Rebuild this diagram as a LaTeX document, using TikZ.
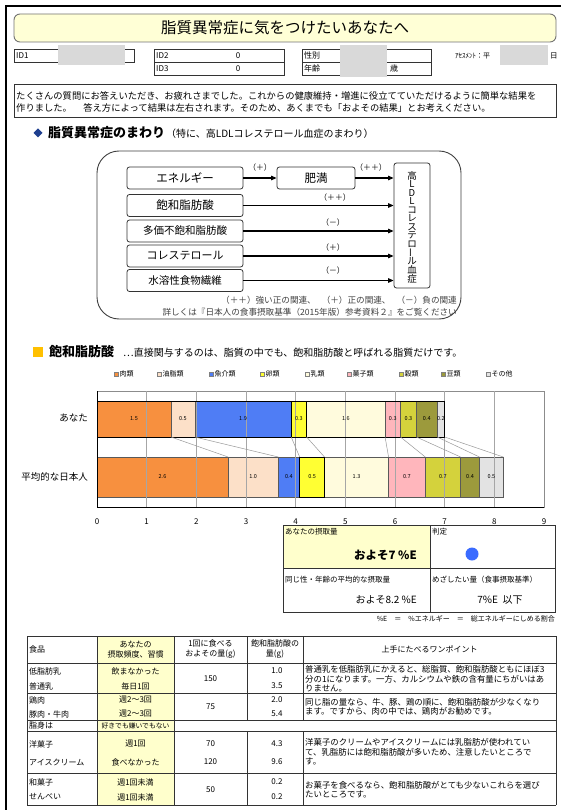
\documentclass[tikz,border=0pt]{standalone}
\usepackage{fontspec}
\setmainfont{Noto Sans CJK JP}
\usetikzlibrary{arrows.meta,calc}
\newcommand\fsz[2]{\fontsize{#1}{#2}\selectfont}
\definecolor{titlefill}{HTML}{FFFFD6}
\definecolor{ylw}{HTML}{FFFFCC}
\definecolor{navy}{HTML}{1F3F8F}
\definecolor{hdsq}{HTML}{FFC000}
\definecolor{cmeat}{HTML}{F7903F}
\definecolor{coil}{HTML}{FCE0C8}
\definecolor{cfish}{HTML}{4F7DF5}
\definecolor{cegg}{HTML}{FFFF33}
\definecolor{cmilk}{HTML}{FFFBDD}
\definecolor{csweet}{HTML}{FFB6BC}
\definecolor{cgrain}{HTML}{D4D23C}
\definecolor{cbean}{HTML}{9C9A3C}
\definecolor{cother}{HTML}{E3E3E3}
\definecolor{judge}{HTML}{3A6BFF}
\tikzset{
  tw/.style={inner sep=0, anchor=west},
  te/.style={inner sep=0, anchor=east},
  tc/.style={inner sep=0},
  thin box/.style={draw=black!80, line width=0.6},
  redact/.style={fill=black!15, draw=none},
  dbox/.style={draw=black!80, line width=0.8, rounded corners=2.5, minimum height=22, inner sep=0, font=\fsz{11.5}{12}},
  arr/.style={draw=black, line width=1.1, -{Triangle[length=5.5,width=4.5]}},
  rel/.style={inner sep=0, font=\fsz{7.8}{9}},
  note/.style={inner sep=0, anchor=east, font=\fsz{8.6}{9}, text=black!75},
  seg/.style={draw=black!65, line width=0.5},
  vl/.style={inner sep=0, font=\fsz{5.5}{6}},
  conn/.style={draw=black!40, line width=0.5},
  gridl/.style={draw=black!35, line width=0.5},
  lg/.style={inner sep=0, anchor=west, font=\fsz{7}{8}},
  tab/.style={draw=black!80, line width=0.6},
  tt/.style={inner sep=0, font=\fsz{8}{10}},
  ttx/.style={inner sep=0, anchor=west, align=left, font=\fsz{8.4}{9.5}},
}
\begin{document}
\begin{tikzpicture}[x=1pt,y=-1pt]
\useasboundingbox (0,0) rectangle (561,810);
\fill[white] (0,0) rectangle (561,810);
% page frame
\draw[line width=2.4] (6,810) -- (6,6) -- (561,6);

% title
\node[draw=black!55, line width=0.9, fill=titlefill, rounded corners=6, minimum width=542, minimum height=28, inner sep=0, font=\fsz{15.5}{16}] (title) at (285,28) {脂質異常症に気をつけたいあなたへ};

% ID fields
\draw[thin box] (14,49) rectangle (134,62);
\node[tw, font=\fsz{8}{9}] (id1) at (16,55.5) {ID1};
\fill[redact] (58,45) rectangle (125,65);

\draw[thin box] (154,49) rectangle (284,75);
\draw[thin box] (154,62) -- (284,62);
\node[tw, font=\fsz{8}{9}] (id2) at (156,55.5) {ID2};
\node[tc, font=\fsz{8}{9}] (id2v) at (238,55.5) {0};
\node[tw, font=\fsz{8}{9}] (id3) at (156,68.5) {ID3};
\node[tc, font=\fsz{8}{9}] (id3v) at (238,68.5) {0};

\draw[thin box] (302,49) rectangle (431,75);
\draw[thin box] (302,62) -- (431,62);
\node[tw, font=\fsz{8}{9}] (sex) at (304,55.5) {性別};
\node[tw, font=\fsz{8}{9}] (age) at (304,68.5) {年齢};
\fill[redact] (340,45) rectangle (387,77);
\node[tw, font=\fsz{8}{9}] (sai) at (390,68.5) {歳};

\node[tw, font=\fsz{7}{8}] (asm) at (455,56) {ｱｾｽﾒﾝﾄ：平};
\fill[redact] (500,45) rectangle (548,65);
\node[tw, font=\fsz{7.5}{8}] (nichi) at (550,56) {日};

% message
\draw[thin box] (14,84) rectangle (556,117);
\node[tw, font=\fsz{9.3}{10}] (msg1) at (16,95.5) {たくさんの質問にお答えいただき、お疲れさまでした。これからの健康維持・増進に役立てていただけるように簡単な結果を};
\node[tw, font=\fsz{9.3}{10}] (msg2) at (16,108) {作りました。　 答え方によって結果は左右されます。そのため、あくまでも「およその結果」とお考えください。};

% heading 1
\fill[navy] (38,128.5) -- (42.5,133) -- (38,137.5) -- (33.5,133) -- cycle;
\node[tw, font=\fsz{13}{14}\bfseries] (h1) at (48,133) {脂質異常症のまわり};
\node[tw, font=\fsz{10}{11}] (h1s) at (166,134) {（特に、高LDLコレステロール血症のまわり）};

% diagram
\draw[draw=black!75, line width=0.9, rounded corners=22] (97,151) rectangle (461,319);
\node[dbox, minimum width=116] (ene) at (185,178) {エネルギー};
\node[dbox, minimum width=78] (obe) at (316,178) {肥満};
\node[dbox, minimum width=116] (sfa) at (185,205.5) {飽和脂肪酸};
\node[dbox, minimum width=116, font=\fsz{10.5}{11}] (pufa) at (185,231) {多価不飽和脂肪酸};
\node[dbox, minimum width=116, font=\fsz{11}{12}] (chol) at (185,256) {コレステロール};
\node[dbox, minimum width=116, font=\fsz{10.5}{11}] (fib) at (185,280.5) {水溶性食物繊維};
\node[dbox, minimum width=36, minimum height=125] (ldl) at (412,225.5) {};
\foreach \ch [count=\i] in {高,L,D,L,コ,レ,ス,テ,ロ,{\rotatebox[origin=c]{90}{ー}},ル,血,症}
  \node[tc, font=\fsz{9.5}{10}] (v\i) at (412,{175.5+(\i-1)*8.6}) {\ch};

\draw[arr] (ene.east) -- (obe.west);
\draw[arr] (obe.east) -- (obe.east -| ldl.west);
\draw[arr] (sfa.east) -- (sfa.east -| ldl.west);
\draw[arr] (pufa.east) -- (pufa.east -| ldl.west);
\draw[arr] (chol.east) -- (chol.east -| ldl.west);
\draw[arr] (fib.east) -- (fib.east -| ldl.west);
\node[rel] (r1) at (260,168) {（＋）};
\node[rel] (r2) at (371,168) {（＋＋）};
\node[rel] (r3) at (335,198) {（＋＋）};
\node[rel] (r4) at (333,223) {（－）};
\node[rel] (r5) at (333,247.5) {（＋）};
\node[rel] (r6) at (333,271) {（－）};
\node[note] (lg1) at (457,300) {（＋＋）強い正の関連、\hspace{6pt}（＋）正の関連、\hspace{6pt}（－）負の関連};
\node[note] (lg2) at (457,312.5) {詳しくは『日本人の食事摂取基準（2015年版）参考資料２』をご覧ください};

% heading 2
\fill[hdsq] (33,347) rectangle (43,357);
\node[tw, font=\fsz{13}{14}\bfseries] (h2) at (49,352) {飽和脂肪酸};
\node[tw, font=\fsz{10}{11}] (h2s) at (123,352.5) {…直接関与するのは、脂質の中でも、飽和脂肪酸と呼ばれる脂質だけです。};

% legend
\foreach \x/\c/\t [count=\i] in {114/cmeat/肉類,157/coil/油脂類,209/cfish/魚介類,260/cegg/卵類,305/cmilk/乳類,347/csweet/菓子類,399/cgrain/穀類,441/cbean/豆類,486/cother/その他}{
  \draw[fill=\c, draw=black!50, line width=0.4] (\x,372) rectangle (\x+4.5,376.5);
  \node[lg] (leg\i) at (\x+5.5,374.2) {\t};
}

% chart
\draw[draw=black!45, line width=0.6] (97,391) rectangle (544,507);
\foreach \a/\b/\c/\v [count=\i] in {0/1.49/cmeat/1.5,1.49/1.97/coil/0.5,1.97/3.91/cfish/1.9,3.91/4.22/cegg/0.3,4.22/5.80/cmilk/1.6,5.80/6.11/csweet/0.3,6.11/6.43/cgrain/0.3,6.43/6.85/cbean/0.4,6.85/7.0/cother/0.2}{
  \draw[seg, fill=\c] ({97+\a*49.67},401) rectangle ({97+\b*49.67},437);
}
\foreach \a/\b/\c/\v [count=\i] in {0/2.64/cmeat/2.6,2.64/3.65/coil/1.0,3.65/4.08/cfish/0.4,4.08/4.58/cegg/0.5,4.58/5.87/cmilk/1.3,5.87/6.61/csweet/0.7,6.61/7.32/cgrain/0.7,7.32/7.70/cbean/0.4,7.70/8.18/cother/0.5}{
  \draw[seg, fill=\c] ({97+\a*49.67},457) rectangle ({97+\b*49.67},497);
}
\foreach \k in {1,...,8}
  \draw[gridl] ({97+\k*49.67},391) -- ({97+\k*49.67},507);
\draw[black, line width=0.8] ({97+3.91*49.67},401) rectangle ({97+4.22*49.67},437);
\draw[black, line width=0.8] ({97+4.08*49.67},457) rectangle ({97+4.58*49.67},497);
\draw[black, line width=0.9] (97,401) rectangle ({97+7.0*49.67},437);
\foreach \a/\b/\v [count=\i] in {0/1.49/1.5,1.49/1.97/0.5,1.97/3.91/1.9,3.91/4.22/0.3,4.22/5.80/1.6,5.80/6.11/0.3,6.11/6.43/0.3,6.43/6.85/0.4,6.85/7.0/0.2}
  \node[vl] (ya\i) at ({97+(\a+\b)/2*49.67},419) {\v};
\foreach \a/\b/\v [count=\i] in {0/2.64/2.6,2.64/3.65/1.0,3.65/4.08/0.4,4.08/4.58/0.5,4.58/5.87/1.3,5.87/6.61/0.7,6.61/7.32/0.7,7.32/7.70/0.4,7.70/8.18/0.5}
  \node[vl] (yb\i) at ({97+(\a+\b)/2*49.67},477) {\v};
\foreach \p/\q in {1.49/2.64,1.97/3.65,3.91/4.08,4.22/4.58,5.80/5.87,6.11/6.61,6.43/7.32,6.85/7.70,7.0/8.18}
  \draw[conn] ({97+\p*49.67},437) -- ({97+\q*49.67},457);
\draw[black, line width=1] (97,391) -- (97,507) -- (544,507);
\foreach \k in {0,...,9}
  \node[tc, font=\fsz{8}{9}] (ax\k) at ({97+\k*49.67},522) {\k};
\node[te, font=\fsz{9.5}{10}] (you) at (88,418) {あなた};
\node[te, font=\fsz{9.5}{10}] (avg) at (88,477) {平均的な日本人};

% result box
\fill[ylw] (283,525) rectangle (430,568);
\draw[tab, line width=0.7] (283,525) rectangle (555,612);
\draw[tab, line width=0.7] (430,525) -- (430,612);
\draw[tab, line width=0.7] (283,568) -- (555,568);
\node[tw, font=\fsz{7.5}{8}] (rb1) at (285,532) {あなたの摂取量};
\node[te, font=\fsz{11.5}{12}\bfseries] (rb2) at (417,555) {およそ7 \%E};
\node[tw, font=\fsz{7.5}{8}] (rb3) at (432,532) {判定};
\node[circle, fill=judge, minimum size=13, inner sep=0] (dot) at (472,554) {};
\node[tw, font=\fsz{7.5}{8}] (rb4) at (285,580) {同じ性・年齢の平均的な摂取量};
\node[te, font=\fsz{10}{11}] (rb5) at (417,600) {およそ8.2 \%E};
\node[tw, font=\fsz{7.5}{8}] (rb6) at (432,580) {めざしたい量（食事摂取基準）};
\node[tc, font=\fsz{10}{11}] (rb7) at (500,600) {7\%E\ \ 以下};
\node[te, font=\fsz{7}{8}] (rb8) at (555,619) {\%E　＝　\%エネルギー　＝　総エネルギーにしめる割合};

% table
\fill[ylw] (97,636) rectangle (174,805);
\foreach \y in {636,663,693,720,731,773,805}
  \draw[tab] (27,\y) -- (556,\y);
\draw[tab] (27,636) -- (27,805);
\draw[tab] (556,636) -- (556,805);
\draw[tab] (97,636) -- (97,805);
\draw[tab] (174,636) -- (174,805);
\draw[tab] (247,636) -- (247,720);
\draw[tab] (303,636) -- (303,720);
\draw[tab] (247,731) -- (247,805);
\draw[tab] (303,731) -- (303,805);

\node[tt, anchor=west] (th1) at (29,649.5) {食品};
\node[tt, align=center] (th2) at (135.5,649.5) {あなたの\\摂取頻度、習慣};
\node[tt, align=center] (th3) at (210.5,649.5) {1回に食べる\\およその量(g)};
\node[tt, align=center] (th4) at (275,649.5) {飽和脂肪酸の\\量(g)};
\node[tt] (th5) at (429.5,649.5) {上手にたべるワンポイント};

% group 1
\node[tt, anchor=west] (f1) at (29,671) {低脂肪乳};
\node[tt, anchor=west] (f2) at (29,686) {普通乳};
\node[tt] (q1) at (135.5,671) {飲まなかった};
\node[tt] (q2) at (135.5,686) {毎日1回};
\node[tt] (g1) at (210.5,679) {150};
\node[tt] (s1) at (277,671) {1.0};
\node[tt] (s2) at (277,686) {3.5};
\node[ttx] (p1) at (305,679) {普通乳を低脂肪乳にかえると、総脂質、飽和脂肪酸ともにほぼ3\\分の1になります。一方、カルシウムや鉄の含有量にちがいはあ\\りません。};
% group 2
\node[tt, anchor=west] (f3) at (29,700) {鶏肉};
\node[tt, anchor=west] (f4) at (29,714) {豚肉・牛肉};
\node[tt] (q3) at (135.5,700) {週2～3回};
\node[tt] (q4) at (135.5,714) {週2～3回};
\node[tt] (g2) at (210.5,707) {75};
\node[tt] (s3) at (277,700) {2.0};
\node[tt] (s4) at (277,714) {5.4};
\node[ttx] (p2) at (305,707) {同じ脂の量なら、牛、豚、鶏の順に、飽和脂肪酸が少なくなり\\ます。ですから、肉の中では、鶏肉がお勧めです。};
% fat row
\node[tt, anchor=west] (f5) at (29,725.5) {脂身は};
\node[tt, font=\fsz{6.8}{7}] (q5) at (135.5,725.5) {好きでも嫌いでもない};
% group 3
\node[tt, anchor=west] (f6) at (29,744) {洋菓子};
\node[tt, anchor=west] (f7) at (29,762) {アイスクリーム};
\node[tt] (q6) at (135.5,744) {週1回};
\node[tt] (q7) at (135.5,762) {食べなかった};
\node[tt] (g3) at (210.5,744) {70};
\node[tt] (g4) at (210.5,762) {120};
\node[tt] (s6) at (277,744) {4.3};
\node[tt] (s7) at (277,762) {9.6};
\node[ttx] (p3) at (305,752) {洋菓子のクリームやアイスクリームには乳脂肪が使われてい\\て、乳脂肪には飽和脂肪酸が多いため、注意したいところで\\す。};
% group 4
\node[tt, anchor=west] (f8) at (29,782) {和菓子};
\node[tt, anchor=west] (f9) at (29,797) {せんべい};
\node[tt] (q8) at (135.5,782) {週1回未満};
\node[tt] (q9) at (135.5,797) {週1回未満};
\node[tt] (g5) at (210.5,789.5) {50};
\node[tt] (s8) at (277,782) {0.2};
\node[tt] (s9) at (277,797) {0.2};
\node[ttx] (p4) at (305,789.5) {お菓子を食べるなら、飽和脂肪酸がとても少ないこれらを選び\\たいところです。};
\end{tikzpicture}
\end{document}
